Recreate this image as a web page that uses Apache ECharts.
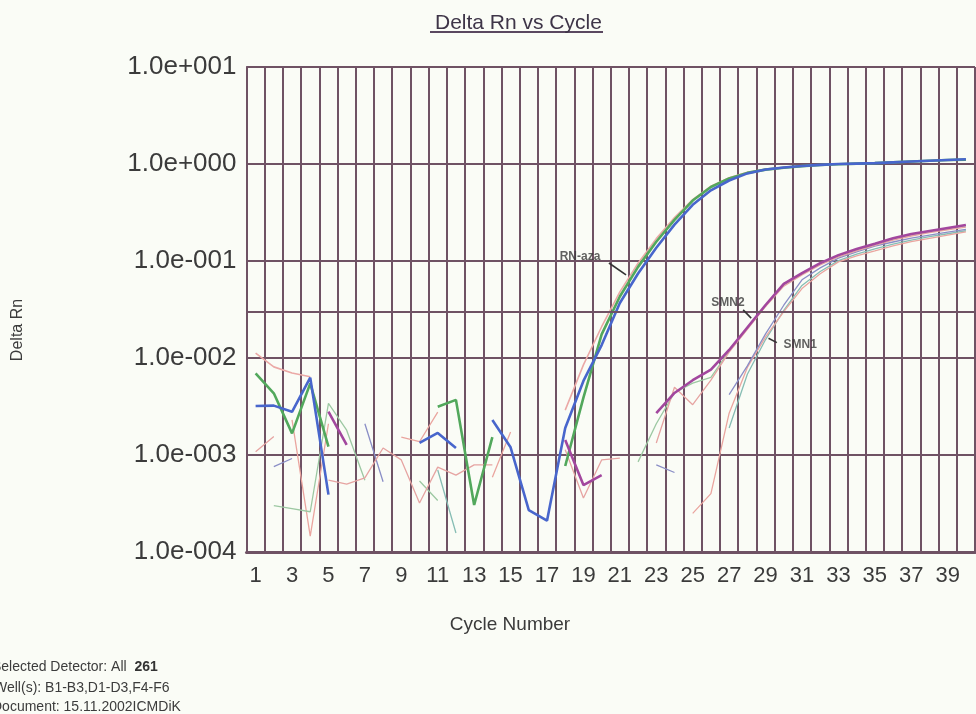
<!DOCTYPE html>
<html>
<head>
<meta charset="utf-8">
<script src="https://cdn.jsdelivr.net/npm/echarts@6/dist/echarts.min.js"></script>
<style>
html,body{margin:0;padding:0;background:#fafcf6;}
#chart{width:976px;height:714px;}
</style>
</head>
<body>
<div id="chart"></div>
<script>
// ---------- data ----------
const cycles = ['1','2','3','4','5','6','7','8','9','10','11','12','13','14','15','16','17','18','19','20',
                '21','22','23','24','25','26','27','28','29','30','31','32','33','34','35','36','37','38','39','40'];
const yTickLabels = ['1.0e-004','1.0e-003','1.0e-002','1.0e-001','1.0e+000','1.0e+001'];
const thresholdValue = 0.025;

// RN-aza wells
const rnAzaPink = [0.0112,0.0081,0.0070,0.0064,null,null,null,null,null,null,
  null,null,null,null,null,null,null,0.0029,0.0085,0.021,
  0.048,0.095,0.17,0.28,0.43,0.59,0.72,0.82,0.88,0.92,
  0.95,0.98,1.0,1.01,1.02,1.04,1.06,1.08,1.10,1.11];
const rnAzaGreen = [0.00695,0.00433,0.00167,0.00548,0.00122,null,null,null,null,null,
  0.00315,0.0037,0.000305,0.00153,null,null,null,0.00077,0.0039,0.0175,
  0.043,0.087,0.158,0.265,0.42,0.58,0.71,0.81,0.875,0.915,
  0.95,0.975,0.995,1.01,1.02,1.04,1.06,1.08,1.10,1.11];
const rnAzaBlue = [0.0032,0.00323,0.00279,0.00627,0.00039,null,null,null,null,0.00133,
  0.00169,0.00118,null,0.0023,0.0012,0.00027,0.00021,0.0019,0.0058,0.0136,
  0.0369,0.0743,0.137,0.237,0.38,0.535,0.676,0.80,0.877,0.92,
  0.954,0.98,1.0,1.01,1.02,1.04,1.06,1.08,1.10,1.12];
// SMN2 wells
const smn2Magenta = [null,null,null,null,0.0028,0.00127,null,null,null,null,
  null,null,null,null,null,null,null,0.00143,0.00049,0.00062,
  null,null,0.0027,0.00436,0.0059,0.0076,0.0121,0.0206,0.0352,0.058,
  0.075,0.095,0.115,0.133,0.151,0.172,0.19,0.204,0.219,0.235];
const smn2Pink = [0.00108,0.00155,null,null,0.00055,0.0005,0.00058,0.00118,0.00089,0.00032,
  0.00075,0.00062,0.00079,0.00079,null,null,null,0.00113,0.00036,0.00089,
  0.00093,null,0.00133,0.005,0.0033,0.0059,0.0115,0.0198,0.034,0.055,
  0.072,0.091,0.11,0.127,0.145,0.164,0.181,0.196,0.21,0.223];
const smn2Green = [null,0.0003,0.00028,0.00026,0.0034,0.0018,0.00055,null,null,0.00054,
  0.00034,null,null,null,null,null,null,null,null,null,
  null,0.00085,0.0021,0.0044,0.0055,0.0063,0.0118,0.0202,0.0345,0.057,
  0.074,0.094,0.113,0.131,0.149,0.169,0.187,0.201,0.216,0.232];
// SMN1 wells
const smn1Slate = [null,0.00076,0.00092,null,null,null,0.0021,0.00053,null,null,
  null,null,null,null,null,null,null,null,null,null,
  null,null,0.00079,0.00066,null,null,0.0042,0.0083,0.0177,0.035,
  0.064,0.085,0.107,0.124,0.142,0.157,0.172,0.185,0.198,0.212];
const smn1Pink = [null,null,0.0023,0.000146,0.0021,null,null,null,0.00153,0.00137,
  0.00277,null,null,0.00059,0.00173,null,null,null,null,null,
  null,null,null,null,0.00025,0.0004,0.0027,0.008,0.0165,0.030,
  0.052,0.074,0.098,0.113,0.127,0.143,0.158,0.171,0.185,0.200];
const smn1Teal = [null,null,null,null,null,null,null,null,null,null,
  0.0007,0.000157,null,null,null,null,null,null,null,null,
  null,null,null,null,null,null,0.0019,0.0068,0.0155,0.031,
  0.056,0.078,0.101,0.118,0.133,0.149,0.164,0.178,0.191,0.205];

// annotations (cycle position, Delta Rn)
const annotNames = ['RN-aza','SMN2','SMN1'];
const annotText = [[18.81,0.110],[26.94,0.0369],[30.9,0.0136]];
const annotLeaders = [
  [[20.4,0.0953],[21.34,0.0718]],
  [[27.77,0.0313],[28.21,0.0258]],
  [[29.16,0.0160],[29.62,0.0144]]
];

// ---------- chart ----------
const gridColor = '#6f5264';
const font = 'Liberation Sans, Arial, sans-serif';
const chart = echarts.init(document.getElementById('chart'));

function wellSeries(name, data, color, width){
  return {name:name,type:'line',data:data,xAxisIndex:0,yAxisIndex:0,
    showSymbol:false,symbol:'none',connectNulls:false,silent:true,
    lineStyle:{color:color,width:width},itemStyle:{color:color},z:3};
}

const series = [
  wellSeries('SMN1-3', smn1Teal, '#86bdb4', 1.3),
  wellSeries('SMN1-2', smn1Pink, '#eaa59f', 1.3),
  wellSeries('SMN1-1', smn1Slate, '#8a8ec6', 1.3),
  wellSeries('SMN2-3', smn2Green, '#9cc8a2', 1.3),
  wellSeries('SMN2-2', smn2Pink, '#e6a4a2', 1.3),
  wellSeries('RN-aza-1', rnAzaPink, '#eba9a6', 1.6),
  wellSeries('RN-aza-2', rnAzaGreen, '#52a85c', 2.6),
  wellSeries('SMN2-1', smn2Magenta, '#a2479e', 2.6),
  wellSeries('RN-aza-3', rnAzaBlue, '#4866cc', 2.6)
];
series[0].markLine = {silent:true,symbol:['none','none'],label:{show:false},
  lineStyle:{color:gridColor,width:2,type:'solid'},data:[{yAxis:thresholdValue}],animation:false};

series.push({type:'scatter',xAxisIndex:1,yAxisIndex:0,symbolSize:0,silent:true,z:6,
  data:annotText.map((p,i)=>({value:p,name:annotNames[i]})),
  label:{show:true,position:'inside',formatter:p=>p.name,color:'#3a3a3a',
    fontFamily:font,fontSize:12,fontWeight:'bold'}});
annotLeaders.forEach(seg=>{
  series.push({type:'line',xAxisIndex:1,yAxisIndex:0,data:seg,showSymbol:false,symbol:'none',
    silent:true,z:6,lineStyle:{color:'#333333',width:1.6}});
});

chart.setOption({
  backgroundColor:'#fafcf6',
  animation:false,
  title:{text:'Delta Rn vs Cycle',left:430,top:8,
    textStyle:{fontFamily:font,fontSize:21,fontWeight:'normal',color:'#3e3548'}},
  grid:{left:246.5,right:1,top:67,bottom:162,containLabel:false},
  xAxis:[{
    type:'category',data:cycles,boundaryGap:true,
    axisLine:{show:true,lineStyle:{color:gridColor,width:3}},
    axisTick:{show:false},
    axisLabel:{interval:1,margin:13,fontFamily:font,fontSize:22,color:'#3b3b3b'},
    splitLine:{show:true,interval:0,lineStyle:{color:gridColor,width:2}}
  },{
    type:'value',min:0.5,max:40.5,show:false
  }],
  yAxis:{
    type:'log',logBase:10,min:0.0001,max:10,
    axisLine:{show:true,lineStyle:{color:gridColor,width:2}},
    axisTick:{show:false},
    axisLabel:{margin:10,fontFamily:font,fontSize:26,color:'#3b3b3b',
      formatter:v=>yTickLabels[Math.round(Math.log10(v))+4]},
    splitLine:{show:true,lineStyle:{color:gridColor,width:2}}
  },
  graphic:[
    {type:'line',shape:{x1:430,y1:32,x2:603,y2:32},style:{stroke:'#5a4860',lineWidth:2},silent:true},
    {type:'text',x:18,y:330,rotation:Math.PI/2,silent:true,
      style:{text:'Delta Rn',font:'16px "Liberation Sans", Arial, sans-serif',fill:'#3b3b3b',
        align:'center',verticalAlign:'middle'}},
    {type:'text',x:510,y:625,silent:true,
      style:{text:'Cycle Number',font:'19px "Liberation Sans", Arial, sans-serif',fill:'#3b3b3b',
        align:'center',verticalAlign:'middle'}},
    {type:'text',x:-8,y:667,silent:true,style:{text:'Selected Detector: All  {b|261}',
      font:'14px "Liberation Sans", Arial, sans-serif',fill:'#3c3c3c',verticalAlign:'middle',
      rich:{b:{fontWeight:'bold',fontSize:14,fill:'#333333'}}}},
    {type:'text',x:-6,y:688,silent:true,style:{text:'Well(s): B1-B3,D1-D3,F4-F6',
      font:'14px "Liberation Sans", Arial, sans-serif',fill:'#3c3c3c',verticalAlign:'middle'}},
    {type:'text',x:-8,y:707,silent:true,style:{text:'Document: 15.11.2002ICMDiK',
      font:'14px "Liberation Sans", Arial, sans-serif',fill:'#3c3c3c',verticalAlign:'middle'}}
  ],
  series:series
});
</script>
</body>
</html>
